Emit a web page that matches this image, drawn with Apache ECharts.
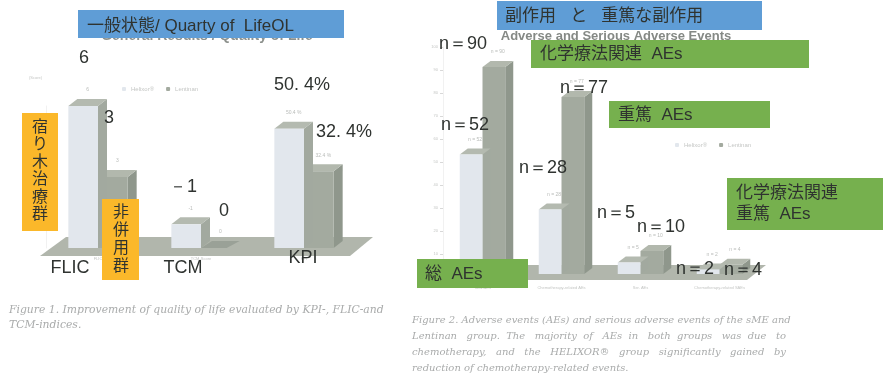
<!DOCTYPE html>
<html><head><meta charset="utf-8">
<style>html,body{margin:0;padding:0;background:#fff}#c{width:883px;height:378px;filter:blur(0.5px)}</style>
<script src="https://cdn.jsdelivr.net/npm/echarts@6/dist/echarts.min.js"></script>
</head><body><div id="c"></div>
<script>
// ---- data ----
const qolCategories = ['FLIC', 'TCM-Score', 'KPI'];
const qolHelixor = [6, 1, 50.4];
const qolLentinan = [3, 0, 32.4];
const qolHelixorLabels = ['6', '-1', '50.4 %'];
const qolLentinanLabels = ['3', '0', '32.4 %'];
const aeCategories = ['Total AEs', 'Chemotherapy-related AEs', 'Ser. AEs', 'Chemotherapy-related SAEs'];
const aeHelixor = [52, 28, 5, 2];
const aeLentinan = [90, 77, 10, 4];
const seriesNames = ['Helixor®', 'Lentinan'];
const qolTitle = '一般状態/ Quarty of  LifeOL';
const qolSubtitle = 'General Results / Quality of Life';
const aeTitle = '副作用   と   重篤な副作用';
const aeSubtitle = 'Adverse and Serious Adverse Events';
const caption1 = ['Figure 1. Improvement of quality of life evaluated by KPI-, FLIC-and', 'TCM-indices.'];
const caption2 = ['Figure 2. Adverse events (AEs) and serious adverse events of the sME and',
  'Lentinan group. The majority of AEs in both groups was due to',
  'chemotherapy, and the HELIXOR® group significantly gained by',
  'reduction of chemotherapy-related events.'];

// ---- styles ----
const JP = '"Liberation Sans","Noto Sans CJK JP",sans-serif';
const LAT = '"Liberation Sans",sans-serif';
const INK = '#2f3330';
const palette = [
  {front:'#e2e7ed', top:'#b4bab0', side:'#a2a99f'},
  {front:'#a3aa9f', top:'#b2b8ad', side:'#8f978c'}
];

// 3D-looking bar: front face from library coordinates, depth added to it
function bar3d(seriesIdx, depth, lift, labels) {
  return function (params, api) {
    const i = api.value(0), v = api.value(1);
    const band = api.size([1, 0])[0];
    const w = band * 0.288;
    const c = api.coord([i, 0]);
    const t = api.coord([i, v]);
    const x0 = seriesIdx === 0 ? c[0] - w : c[0];
    const x1 = x0 + w;
    const yb = c[1] - lift, yt = t[1] - lift;
    const col = palette[seriesIdx];
    const poly = (pts, fill) => ({type:'polygon', shape:{points:pts}, style:{fill}});
    const label = {type:'text', style:{text:labels(params.dataIndex, v), x:x0+w/2+depth[0]/2, y:yt-depth[1]-9,
        textAlign:'center', textVerticalAlign:'middle', fill:'#b9bcb9', font:'5px '+LAT}};
    if (v === 0) {
      return {type:'group', children:[
        poly([[x0,yb],[x1-4,yb],[x1+depth[0],yb-depth[1]],[x0+depth[0]+2,yb-depth[1]]], '#9aa197'),
        label]};
    }
    return {type:'group', children:[
      poly([[x1,yb],[x1+depth[0],yb-depth[1]],[x1+depth[0],yt-depth[1]],[x1,yt]], col.side),
      poly([[x0,yt],[x0+depth[0],yt-depth[1]],[x1+depth[0],yt-depth[1]],[x1,yt]], col.top),
      poly([[x0,yb],[x1,yb],[x1,yt],[x0,yt]], col.front),
      label]};
  };
}

const pairs = (arr) => arr.map((v, i) => [i, v]);
const depthL = [9, 7], depthR = [8, 6];
const kpi = qolCategories.length - 1;
const onlyKpi = (arr) => pairs(arr).filter(d => d[0] === kpi);
const notKpi = (arr) => pairs(arr).filter(d => d[0] !== kpi);

const series = [
  {name:seriesNames[0], type:'custom', xAxisIndex:0, yAxisIndex:0, z:3, data:notKpi(qolHelixor), encode:{x:0,y:1},
   renderItem:bar3d(0, depthL, 0, (i)=>qolHelixorLabels[i])},
  {name:seriesNames[1], type:'custom', xAxisIndex:0, yAxisIndex:0, z:2, data:notKpi(qolLentinan), encode:{x:0,y:1},
   renderItem:bar3d(1, depthL, 0, (i)=>qolLentinanLabels[i])},
  {name:seriesNames[0], type:'custom', xAxisIndex:0, yAxisIndex:1, z:3, data:onlyKpi(qolHelixor), encode:{x:0,y:1},
   renderItem:bar3d(0, depthL, 0, ()=>qolHelixorLabels[kpi])},
  {name:seriesNames[1], type:'custom', xAxisIndex:0, yAxisIndex:1, z:2, data:onlyKpi(qolLentinan), encode:{x:0,y:1},
   renderItem:bar3d(1, depthL, 0, ()=>qolLentinanLabels[kpi])},
  {name:seriesNames[0], type:'custom', xAxisIndex:1, yAxisIndex:2, z:3, data:pairs(aeHelixor), encode:{x:0,y:1},
   renderItem:bar3d(0, depthR, 3, (i,v)=>'n = '+v)},
  {name:seriesNames[1], type:'custom', xAxisIndex:1, yAxisIndex:2, z:2, data:pairs(aeLentinan), encode:{x:0,y:1},
   renderItem:bar3d(1, depthR, 3, (i,v)=>'n = '+v)}
];

// ---- overlay annotations ----
const box = (x, y, w, h, fill, z) => ({type:'rect', z:z||20, shape:{x,y,width:w,height:h}, style:{fill}});
const txt = (text, x, y, size, extra) => ({type:'text', z:30, x, y,
  style:Object.assign({text, fill:INK, font:(size||17)+'px '+JP, textAlign:'left', textVerticalAlign:'middle'}, extra||{})});
const ctr = (text, x, y) => txt(text, x, y, 18, {textAlign:'center', font:'18px '+LAT});
// widen a caption line by spreading extra spaces over its gaps (the original is justified)
const spread = (s, extra) => {
  const w = s.split(' '), gaps = w.length - 1;
  return w.reduce((acc, word, i) => acc + ' '.repeat(1 + Math.round((i * extra) / gaps) - Math.round(((i - 1) * extra) / gaps)) + word);
};
const cap = (text, x, y, size) => ({type:'text', z:30, x, y,
  style:{text, fill:'#a9abab', font:'italic '+(size||10)+'px "DejaVu Serif",serif', textVerticalAlign:'middle'}});
const vert = (s) => s.split('').join('\n');

const graphic = [
  // floors
  {type:'polygon', z:0, shape:{points:[[40,256],[66,237],[373,237],[350,256]]}, style:{fill:'#b1b6ac'}},
  {type:'polygon', z:0, shape:{points:[[420,280],[440,265],[766,265],[747,280]]}, style:{fill:'#b1b6ac'}},
  // subtitles hidden behind the coloured boxes
  {type:'text', z:10, x:207, y:36, style:{text:qolSubtitle, fill:'#8d918d', font:'bold 14px '+LAT, textAlign:'center', textVerticalAlign:'middle'}},
  {type:'text', z:10, x:616, y:36, style:{text:aeSubtitle, fill:'#858985', font:'bold 13px '+LAT, textAlign:'center', textVerticalAlign:'middle'}},
  {type:'text', z:10, x:29, y:78, style:{text:'(Score)', fill:'#c4c6c4', font:'4px '+LAT, textVerticalAlign:'middle'}},
  // coloured boxes
  box(78,10,266,28,'#5f9dd6'),
  box(497,1,265,29,'#5f9dd6'),
  box(22,113,36,118,'#fbb82a'),
  box(102,199,37,81,'#fbb82a'),
  box(531,40,278,28,'#76b04e'),
  box(609,101,161,27,'#76b04e'),
  box(727,178,156,52,'#76b04e'),
  box(417,259,111,29,'#76b04e'),
  // box text
  txt(qolTitle,87,26,17),
  txt(aeTitle,505,16,17),
  txt(vert('宿り木治療群'),40,171,16,{textAlign:'center',lineHeight:17.5}),
  txt(vert('非併用群'),121,240,16,{textAlign:'center',lineHeight:18}),
  txt('化学療法関連  AEs',540,54,17),
  txt('重篤  AEs',618,115,17),
  txt('化学療法関連\n重篤  AEs',736,204,17,{lineHeight:21}),
  txt('総  AEs',425,274,17),
  // large overlaid values and categories
  ctr('6',84,58), ctr('3',109,118), ctr('－1',183,187), ctr('0',224,211),
  ctr('50. 4%',302,85), ctr('32. 4%',344,132),
  ctr('FLIC',70,268), ctr('TCM',183,268), ctr('KPI',303,258),
  ctr('n＝90',463,44), ctr('n＝52',465,125), ctr('n＝77',584,88), ctr('n＝28',543,168),
  ctr('n＝5',616,213), ctr('n＝10',661,227), ctr('n＝2',695,269), ctr('n＝4',743,270),
  // captions
  cap(caption1[0],9,310,10.8), cap(caption1[1],9,325,10.8),
  cap(caption2[0],412,320), cap(spread(caption2[1],17),412,336), cap(spread(caption2[2],14),412,352), cap(caption2[3],412,368)
];

const faint = {color:'#c4c6c4', fontSize:4, fontFamily:LAT};
const legendText = {color:'#c4c6c4', fontSize:6, fontFamily:LAT};
const chart = echarts.init(document.getElementById('c'));
chart.setOption({
  animation:false,
  backgroundColor:'#fff',
  legend:[
    {left:117, top:81, itemWidth:4, itemHeight:4, itemGap:12, textStyle:legendText, data:seriesNames, selectedMode:false},
    {left:670, top:137, itemWidth:4, itemHeight:4, itemGap:12, textStyle:legendText, data:seriesNames, selectedMode:false}
  ],
  color:[palette[0].front, palette[1].front],
  grid:[
    {left:46.5, width:309, top:106, height:142},
    {left:443, width:316, top:47, height:230}
  ],
  xAxis:[
    {type:'category', gridIndex:0, data:qolCategories, axisLine:{show:false}, axisTick:{show:false},
     axisLabel:Object.assign({margin:9}, faint)},
    {type:'category', gridIndex:1, data:aeCategories, axisLine:{show:false}, axisTick:{show:false},
     axisLabel:Object.assign({margin:9}, faint)}
  ],
  yAxis:[
    {type:'value', gridIndex:0, min:0, max:6, interval:1, axisLine:{show:true, lineStyle:{color:'#f1f1f1'}}, axisTick:{show:false},
     axisLabel:{show:false}, splitLine:{show:false}},
    {type:'value', gridIndex:0, min:0, max:60, interval:10, position:'right', axisLine:{show:false}, axisTick:{show:false},
     axisLabel:{show:false}, splitLine:{show:false}},
    {type:'value', gridIndex:1, min:0, max:100, interval:10, axisLine:{show:true, lineStyle:{color:'#f1f1f1'}},
     axisTick:{show:true, length:3, lineStyle:{color:'#d8d8d8'}}, axisLabel:Object.assign({margin:5}, faint), splitLine:{show:false}}
  ],
  series,
  graphic
});
</script></body></html>
